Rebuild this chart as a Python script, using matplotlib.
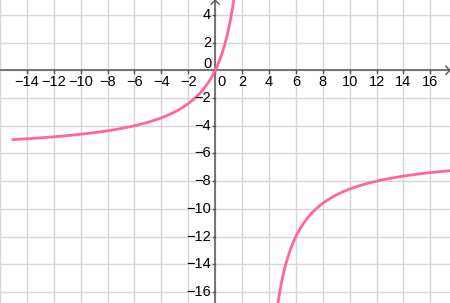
import numpy as np
import matplotlib
matplotlib.use("Agg")
from matplotlib import pyplot as plt

# function graph y = a*x/(x - b)
asym_y = -6.0   # horizontal asymptote
asym_x = 3.0    # vertical asymptote

x_ticks = [-14, -12, -10, -8, -6, -4, -2, 0, 2, 4, 6, 8, 10, 12, 14, 16]
y_ticks = [4, 2, 0, -2, -4, -6, -8, -10, -12, -14, -16]

xmin, xmax = -15.03, 17.46
ymin, ymax = -16.8, 5.08

pink = '#ff6699'
axis_col = '#555555'
grid_col = '#d6d6d6'

plt.rcParams['font.family'] = ['Liberation Sans Narrow', 'Liberation Sans', 'DejaVu Sans']

fig = plt.figure(figsize=(4.5, 3.03), dpi=100)
ax = fig.add_axes([0, 0, 1, 1])
ax.set_xlim(xmin, xmax)
ax.set_ylim(ymin, ymax)
for s in ax.spines.values():
    s.set_visible(False)
ax.set_xticks(np.arange(-16, 18, 2))
ax.set_yticks(np.arange(-16, 6, 2))
ax.tick_params(length=0, labelbottom=False, labelleft=False)
ax.grid(True, color=grid_col, lw=1)

# axes through origin
ax.axhline(0, color=axis_col, lw=1.1)
ax.axvline(0, color=axis_col, lw=1.1)
ax.plot([xmax - 0.3, xmax - 0.02, xmax - 0.3], [0.3, 0, -0.3], color=axis_col, lw=1, clip_on=False)
ax.plot([-0.3, 0, 0.3], [ymax - 0.3, ymax - 0.02, ymax - 0.3], color=axis_col, lw=1, clip_on=False)

# small ticks
for t in x_ticks:
    ax.plot([t, t], [0, -0.18], color=axis_col, lw=1)
for t in y_ticks:
    ax.plot([-0.18, 0], [t, t], color=axis_col, lw=1)

fs = 10.5
for t in x_ticks:
    lab = str(t).replace('-', '\u2212')
    xx = t + 0.5 if t == 0 else t
    ax.text(xx, -0.3, lab, ha='center', va='top', fontsize=fs, color='black')
for t in y_ticks:
    lab = str(t).replace('-', '\u2212')
    yy = t + 0.45 if t == 0 else t
    ax.text(-0.3, yy, lab, ha='right', va='center', fontsize=fs, color='black')

# curve branches
xl = np.linspace(xmin, asym_x - 0.01, 800)
xr = np.linspace(asym_x + 0.01, xmax, 800)
for xs in (xl, xr):
    ys = asym_y * xs / (xs - asym_x)
    ax.plot(xs, ys, color=pink, lw=2)

fig.savefig('out.png', dpi=100)
